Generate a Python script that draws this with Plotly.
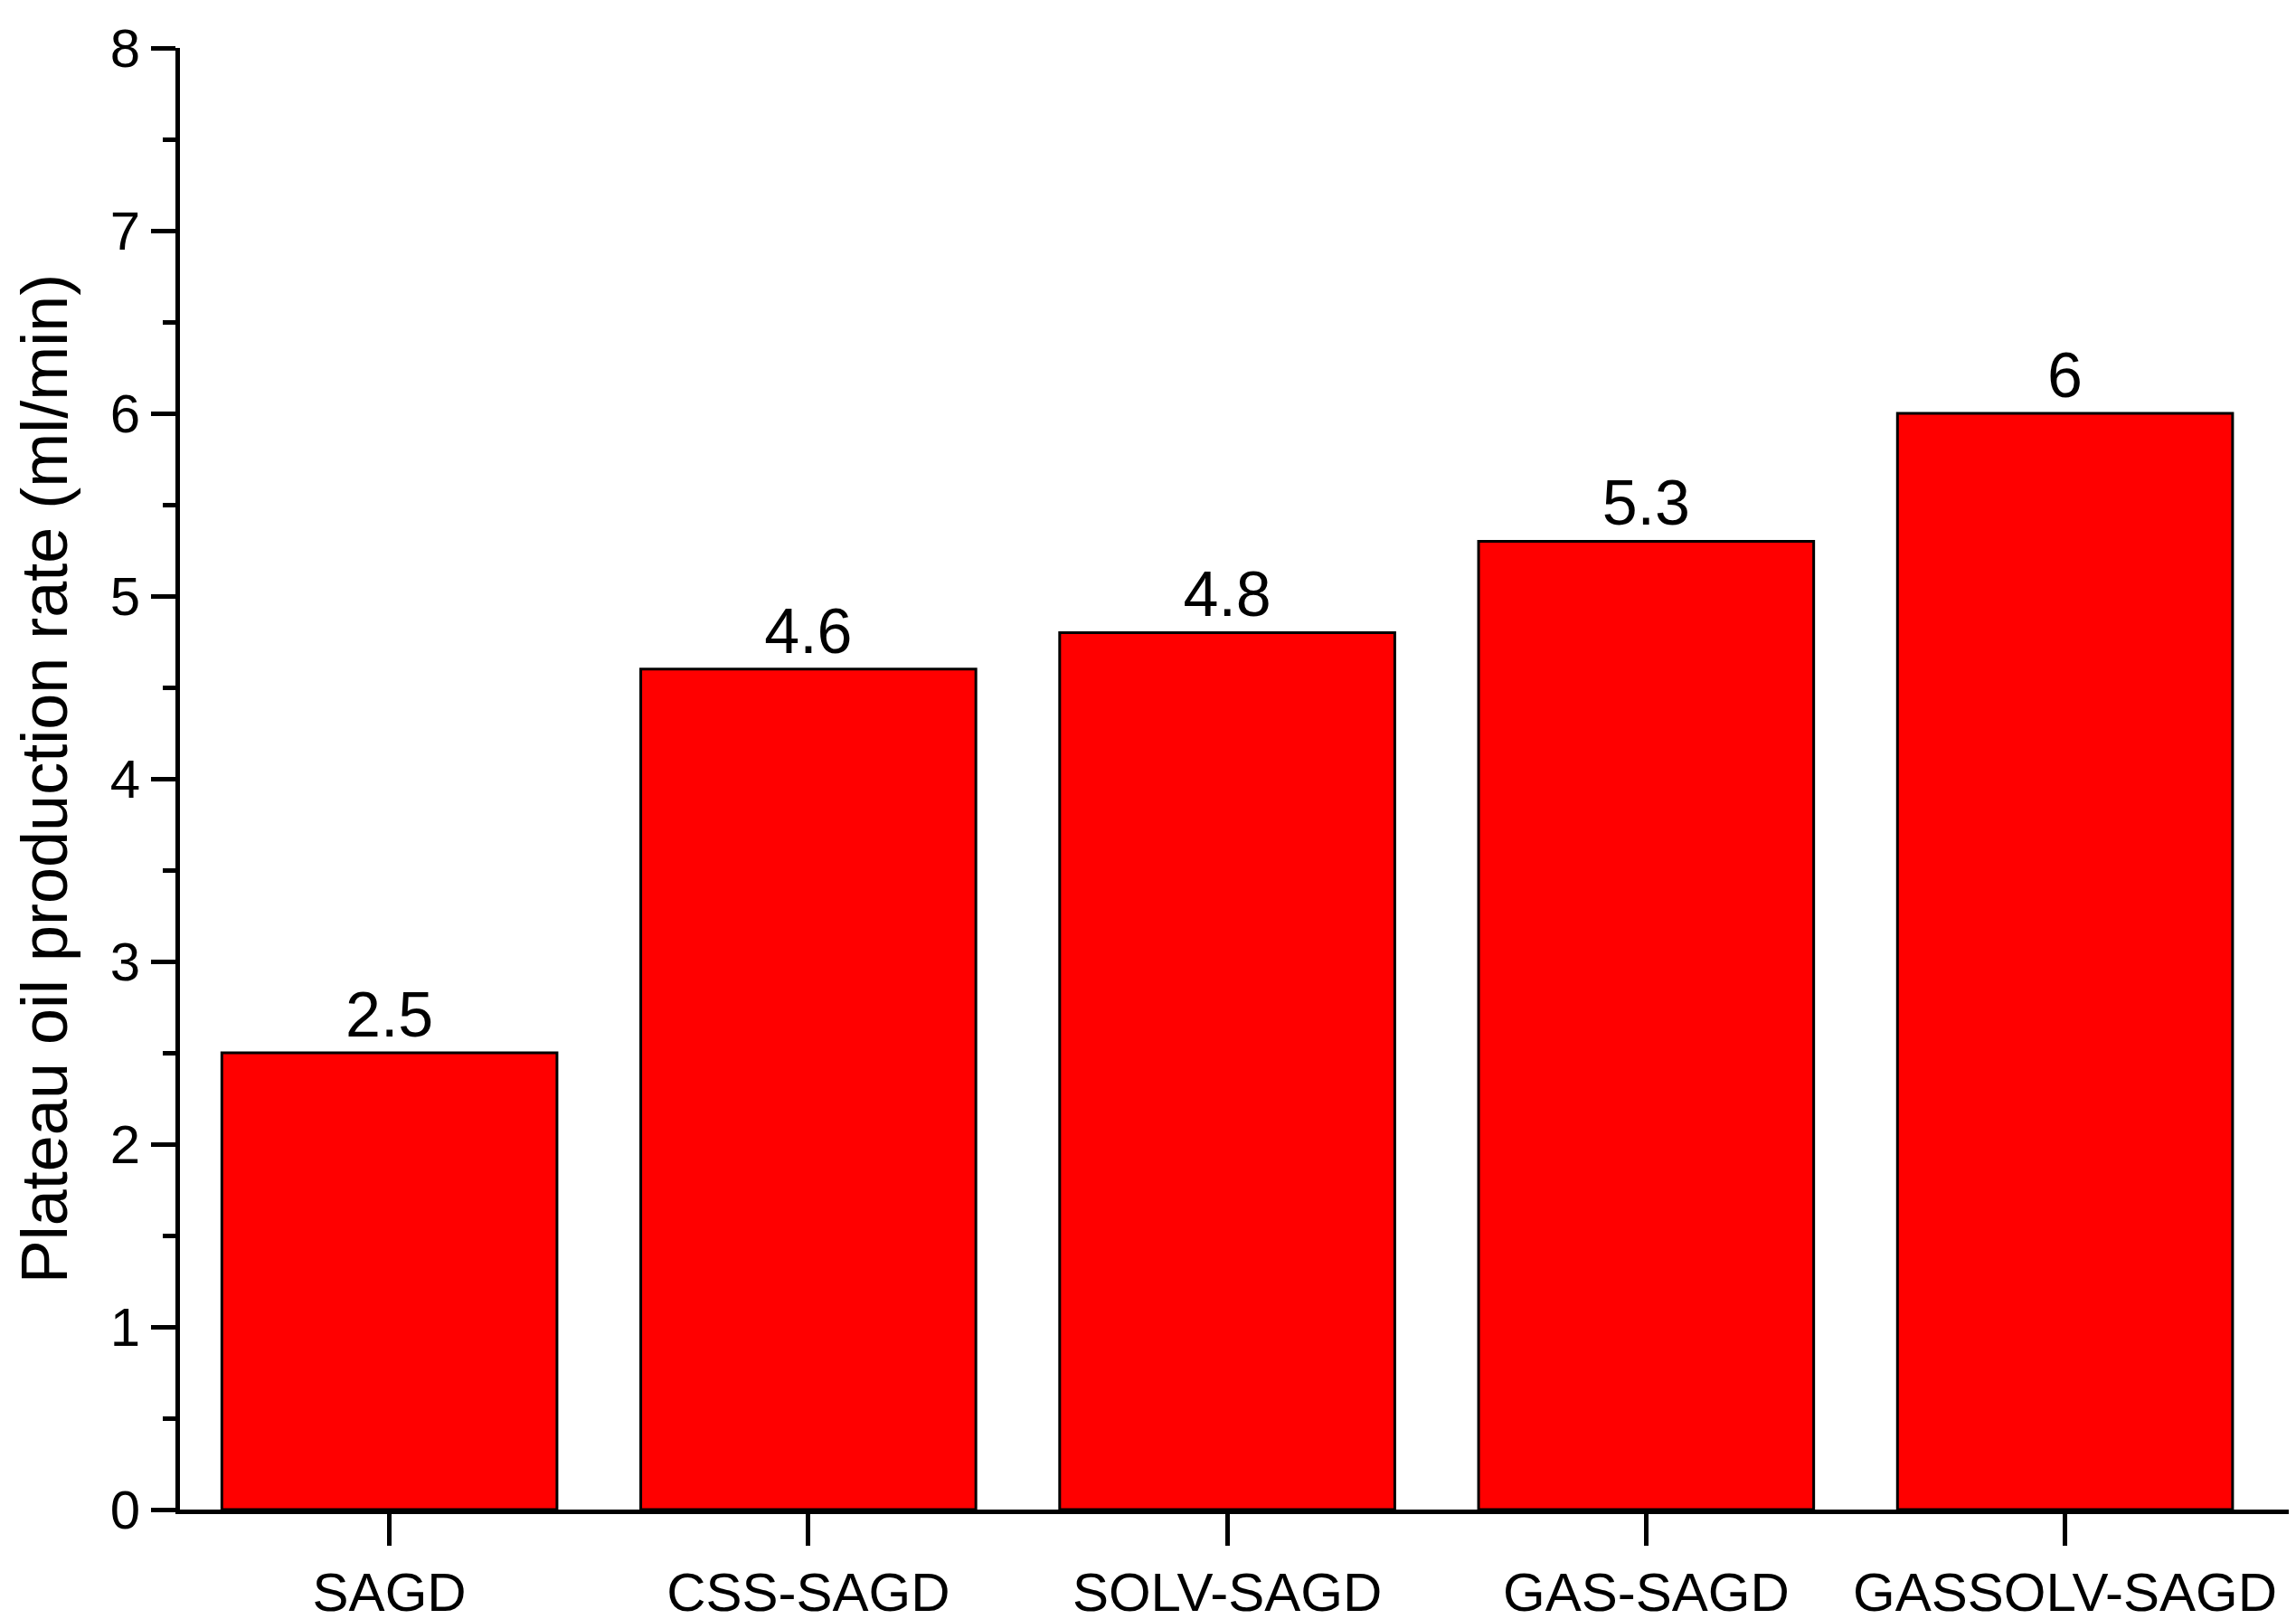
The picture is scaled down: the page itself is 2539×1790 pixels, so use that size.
import plotly.graph_objects as go

categories = ["SAGD", "CSS-SAGD", "SOLV-SAGD", "GAS-SAGD", "GASSOLV-SAGD"]
values = [2.5, 4.6, 4.8, 5.3, 6]
labels = ["2.5", "4.6", "4.8", "5.3", "6"]

fig = go.Figure(go.Bar(
    x=list(range(len(categories))), y=values, text=labels, textposition="outside",
    textfont=dict(size=70, color="black", family="Liberation Sans"),
    marker=dict(color="#ff0000", line=dict(color="black", width=3)), width=0.8,
    cliponaxis=False))

fig.update_layout(
    width=2539, height=1790, plot_bgcolor="white", paper_bgcolor="white",
    margin=dict(l=191, r=4, t=45, b=107), showlegend=False,
    font=dict(family="Liberation Sans", color="black"),
    xaxis=dict(range=[-0.5, 4.56], tickvals=list(range(len(categories))), ticktext=categories,
               showline=True, linecolor="black", linewidth=5, ticks="outside", ticklen=35,
               tickwidth=5, tickcolor="black", tickfont=dict(size=60), showgrid=False, zeroline=False),
    yaxis=dict(range=[0, 8], dtick=1, showline=True, linecolor="black", linewidth=5,
               ticks="outside", ticklen=27, tickwidth=5, tickcolor="black",
               tickfont=dict(size=60), showgrid=False, zeroline=False,
               minor=dict(dtick=0.5, ticks="outside", ticklen=14, tickwidth=5, tickcolor="black"),
               title=dict(text="Plateau oil production rate (ml/min)", font=dict(size=72), standoff=25)),
)
fig.write_html("out.html")
